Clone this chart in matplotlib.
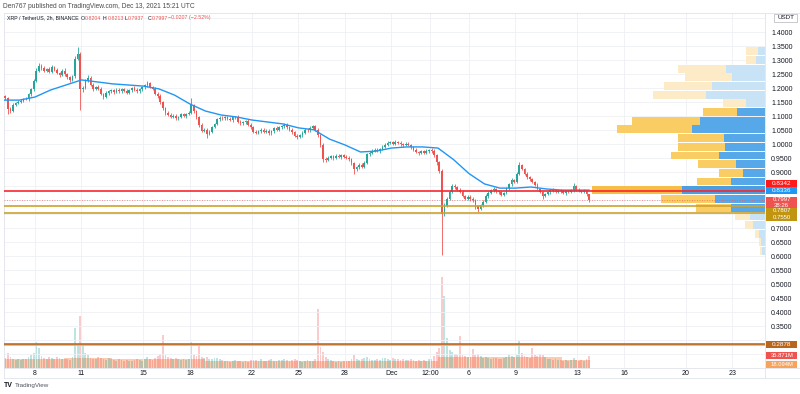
import numpy as np
import matplotlib.pyplot as plt
from matplotlib import transforms
from matplotlib.patches import Rectangle
from matplotlib.lines import Line2D

plt.rcParams['font.family'] = ['Liberation Sans', 'DejaVu Sans']

# XRP/USDT, one candle per 4h starting Nov 6 00:00 UTC (six per day)
first_open = 1.170
closes = [
    1.163, 1.125, 1.118, 1.140, 1.148, 1.150,   # Nov 6
    1.155, 1.162, 1.160, 1.178, 1.195, 1.225,   # Nov 7
    1.262, 1.280, 1.272, 1.262, 1.268, 1.258,   # Nov 8
    1.275, 1.266, 1.255, 1.248, 1.262, 1.250,   # Nov 9
    1.238, 1.228, 1.242, 1.305, 1.322, 1.195,   # Nov 10
    1.200, 1.228, 1.236, 1.212, 1.196, 1.205,   # Nov 11
    1.198, 1.180, 1.168, 1.182, 1.188, 1.192,   # Nov 12
    1.186, 1.194, 1.188, 1.196, 1.190, 1.184,   # Nov 13
    1.192, 1.200, 1.194, 1.188, 1.196, 1.203,   # Nov 14
    1.210, 1.218, 1.205, 1.198, 1.180, 1.172,   # Nov 15
    1.150, 1.128, 1.112, 1.105, 1.098, 1.102,   # Nov 16
    1.092, 1.098, 1.106, 1.100, 1.108, 1.112,   # Nov 17
    1.138, 1.118, 1.095, 1.070, 1.048, 1.052,   # Nov 18
    1.036, 1.045, 1.060, 1.072, 1.088, 1.094,   # Nov 19
    1.092, 1.096, 1.090, 1.086, 1.095, 1.098,   # Nov 20
    1.080, 1.074, 1.078, 1.082, 1.070, 1.060,   # Nov 21
    1.045, 1.040, 1.046, 1.052, 1.044, 1.048,   # Nov 22
    1.038, 1.046, 1.058, 1.052, 1.060, 1.064,   # Nov 23
    1.070, 1.060, 1.052, 1.042, 1.030, 1.026,   # Nov 24
    1.032, 1.040, 1.052, 1.050, 1.058, 1.064,   # Nov 25
    1.052, 1.032, 0.998, 0.948, 0.944, 0.952,   # Nov 26
    0.956, 0.950, 0.958, 0.954, 0.960, 0.955,   # Nov 27
    0.952, 0.946, 0.932, 0.910, 0.918, 0.926,   # Nov 28
    0.920, 0.934, 0.965, 0.970, 0.975, 0.980,   # Nov 29
    0.976, 0.982, 0.990, 0.998, 1.004, 1.006,   # Nov 30
    1.002, 1.008, 1.004, 1.000, 0.996, 1.002,   # Dec 1
    0.998, 0.988, 0.980, 0.972, 0.968, 0.974,   # Dec 2
    0.970, 0.976, 0.980, 0.975, 0.960, 0.935,   # Dec 3
    0.905, 0.752, 0.780, 0.805, 0.830, 0.852,   # Dec 4
    0.846, 0.838, 0.830, 0.815, 0.806, 0.812,   # Dec 5
    0.804, 0.800, 0.778, 0.770, 0.782, 0.795,   # Dec 6
    0.815, 0.826, 0.835, 0.840, 0.832, 0.828,   # Dec 7
    0.820, 0.825, 0.842, 0.858, 0.872, 0.866,   # Dec 8
    0.895, 0.925, 0.910, 0.895, 0.882, 0.875,   # Dec 9
    0.866, 0.855, 0.840, 0.830, 0.815, 0.822,   # Dec 10
    0.828, 0.836, 0.832, 0.830, 0.834, 0.831,   # Dec 11
    0.826, 0.832, 0.830, 0.836, 0.850, 0.838,   # Dec 12
    0.834, 0.830, 0.834, 0.8204, 0.7997,        # Dec 13
]
# wick above / below the body, in thousandths
wick_up = [
    6, 4, 8, 5, 4, 6,   5, 4, 6, 5, 7, 8,   10, 9, 6, 8, 5, 7,   6, 5, 7, 4, 6, 8,
    5, 6, 4, 10, 25, 8,   6, 5, 12, 6, 5, 4,   5, 6, 4, 7, 5, 6,   4, 6, 5, 5, 4, 6,
    5, 4, 6, 5, 6, 5,   6, 8, 5, 4, 6, 5,   6, 5, 4, 6, 5, 4,   5, 4, 6, 5, 4, 6,
    27, 6, 5, 4, 5, 6,   5, 4, 6, 5, 6, 7,   6, 4, 5, 6, 5, 4,   5, 6, 4, 5, 6, 4,
    5, 4, 6, 5, 4, 5,   6, 5, 4, 6, 5, 5,   6, 5, 4, 5, 4, 6,   5, 6, 4, 5, 6, 5,
    6, 5, 4, 6, 5, 4,   5, 4, 6, 5, 4, 5,   5, 4, 6, 5, 4, 6,   5, 6, 4, 5, 6, 5,
    5, 4, 6, 5, 6, 5,   6, 5, 4, 6, 5, 5,   5, 4, 6, 5, 4, 5,   6, 5, 4, 5, 6, 5,
    5, 8, 10, 6, 5, 6,   5, 4, 6, 5, 4, 6,   5, 6, 4, 5, 6, 5,   6, 5, 4, 6, 5, 4,
    5, 4, 6, 5, 6, 5,   6, 12, 5, 4, 5, 6,   5, 4, 6, 5, 4, 5,   5, 4, 6, 5, 4, 5,
    4, 5, 6, 5, 12, 5,   5, 4, 5, 1, 1,
]
wick_dn = [
    5, 18, 8, 5, 4, 6,   5, 6, 4, 5, 6, 4,   5, 6, 8, 5, 6, 5,   5, 6, 4, 7, 5, 6,
    6, 5, 4, 5, 6, 75,   8, 5, 6, 5, 6, 4,   5, 6, 7, 4, 5, 6,   6, 5, 4, 6, 5, 4,
    5, 6, 4, 5, 6, 5,   5, 6, 4, 5, 6, 7,   6, 8, 7, 5, 6, 4,   5, 6, 4, 5, 6, 4,
    5, 6, 7, 8, 6, 5,   15, 5, 6, 4, 5, 6,   5, 6, 4, 5, 6, 4,   5, 6, 4, 5, 6, 5,
    6, 5, 4, 6, 5, 4,   5, 6, 5, 4, 6, 5,   5, 6, 4, 5, 6, 7,   5, 6, 4, 5, 6, 5,
    5, 6, 8, 12, 6, 5,   5, 6, 4, 5, 6, 5,   5, 6, 7, 18, 6, 5,   6, 5, 4, 6, 5, 4,
    5, 6, 4, 5, 6, 5,   5, 6, 4, 5, 6, 4,   5, 6, 4, 5, 6, 5,   5, 4, 6, 5, 6, 8,
    8, 147, 10, 6, 5, 6,   5, 6, 4, 5, 6, 5,   6, 5, 8, 12, 6, 5,   5, 6, 4, 5, 6, 5,
    5, 6, 4, 5, 6, 5,   5, 6, 4, 5, 6, 5,   5, 6, 4, 5, 12, 5,   5, 6, 4, 5, 6, 5,
    5, 6, 4, 5, 6, 5,   5, 6, 4, 5, 6,
]
# volume per candle, millions
volume = [
    30, 45, 32, 28, 25, 27,   24, 26, 28, 33, 38, 45,   79, 60, 35, 30, 28, 32,
    30, 27, 34, 29, 26, 31,   28, 25, 33, 121, 70, 158,   70, 45, 38, 30, 28, 26,
    32, 29, 27, 25, 30, 28,   24, 22, 26, 23, 21, 25,   22, 20, 24, 26, 23, 21,
    28, 32, 26, 24, 30, 35,   42, 100, 38, 32, 29, 27,   30, 26, 24, 28, 25, 27,
    79, 40, 36, 66, 34, 30,   32, 28, 26, 29, 31, 27,   24, 22, 20, 19, 21, 23,
    22, 20, 18, 21, 19, 24,   25, 23, 21, 26, 22, 20,   24, 26, 22, 20, 23, 25,
    27, 24, 22, 25, 28, 23,   21, 19, 22, 24, 20, 22,   26, 179, 65, 48, 34, 28,
    24, 20, 18, 21, 19, 22,   20, 22, 26, 38, 28, 24,   26, 30, 34, 28, 25, 23,
    27, 25, 29, 31, 26, 24,   30, 28, 26, 24, 27, 25,   23, 26, 24, 22, 25, 21,
    24, 22, 26, 28, 35, 48,   60, 276, 218, 90, 55, 48,   42, 38, 97, 40, 36, 34,
    32, 57, 38, 42, 35, 30,   33, 30, 28, 31, 29, 27,   26, 29, 34, 38, 36, 32,
    40, 82, 45, 36, 33, 30,   60, 38, 35, 42, 40, 33,   28, 26, 24, 27, 25, 23,
    22, 25, 21, 24, 30, 23,   22, 24, 21, 26, 36,
]
assert len(closes) == len(wick_up) == len(wick_dn) == len(volume) == 227

# daily moving average (blue) and volume MA, one value per day from Nov 6
ma_price = [1.157, 1.157, 1.168, 1.193, 1.211, 1.229, 1.222, 1.215, 1.211, 1.207,
            1.197, 1.175, 1.143, 1.118, 1.104, 1.097, 1.086, 1.079, 1.072, 1.058,
            1.051, 1.018, 0.997, 0.972, 0.975, 0.986, 0.990, 0.990, 0.986, 0.945,
            0.895, 0.858, 0.843, 0.843, 0.847, 0.840, 0.836, 0.836]
vol_ma = [26, 27, 28, 28, 29, 30, 29, 28, 27, 27, 27, 26, 26, 21, 20, 20, 20, 21, 20,
          20, 21, 21, 20, 20, 20, 20, 20, 20, 33, 34, 33, 33, 33, 34, 33, 32, 23, 23]

tick_days = [2, 5, 9, 12, 16, 19, 22, 25, 27.5, 30, 33, 37, 40, 44, 47]
tick_text = ['8', '11', '15', '18', '22', '25', '28', 'Dec', '12:00', '6', '9', '13',
             '16', '20', '23']

# visible range volume profile: rows from the top price down
vp_top, vp_step = 1.3465, 0.031
vp_total = [19, 19, 87, 80, 101, 112, 42, 62, 133, 148, 87, 87, 94, 67, 46, 68, 173,
            104, 69, 30, 20, 10, 6, 5]
vp_up = [7, 9, 39, 33, 53, 59, 19, 28, 65, 73, 41, 40, 46, 29, 22, 34, 83, 50, 34,
         15, 12, 6, 4, 3]
vp_value_area = range(7, 19)
vp_poc = 16

red_level = 0.8342
gold_levels = [0.7807, 0.7550]
last_price = 0.7997
orange_level = 0.2878

W, H = 800, 394
fig = plt.figure(figsize=(W / 100, H / 100), dpi=100)
ax = fig.add_axes([4 / W, 1 - 368 / H, 761 / W, 355 / H])
axv = ax.twinx()
ax.set_zorder(2)
axv.set_zorder(1)
ax.patch.set_visible(False)

ybot, ytop = 0.2013, 1.4678
ax.set_ylim(ybot, ytop)
ax.set_xlim(0, 49.1)
ppp = (ytop - ybot) / 355  # price per pixel
vmax = 355 / 0.33
axv.set_ylim(0, vmax)

c = np.array(closes)
o = np.r_[first_open, c[:-1]]
hi = np.maximum(o, c) + np.array(wick_up) / 1000
lo = np.minimum(o, c) - np.array(wick_dn) / 1000
t = np.arange(len(c)) / 6 + 1 / 12
cols = np.where(c >= o, '#26a69a', '#ef5350')

# grid and axis labels (those hidden behind the price tags are left blank)
yt = np.round(np.arange(0.25, 1.46, 0.05), 2)
hidden = {0.25, 0.3, 0.75, 0.8, 0.85, 1.45}
ax.set_yticks(yt)
ax.set_yticklabels(['' if v in hidden else '{:.4f}'.format(v) for v in yt])
ax.set_xticks(tick_days)
ax.set_xticklabels(tick_text)
ax.grid(True, color='#eef0f4', lw=0.6)
ax.set_axisbelow(True)
ax.yaxis.tick_right()
ax.tick_params(axis='y', length=0, pad=4.3, labelsize=5, colors='#131722')
ax.tick_params(axis='x', length=0, pad=1.5, labelsize=5, colors='#131722')
for s in ax.spines.values():
    s.set_color('#e0e3eb')
    s.set_linewidth(0.6)
for s in axv.spines.values():
    s.set_visible(False)
axv.set_yticks([])

# volume
days = np.arange(len(vol_ma))
axv.fill_between(np.r_[days, t[-1] + 1 / 12], np.r_[vol_ma, vol_ma[-1]], step='post',
                 color='#fbc4a2', alpha=0.85, lw=0)
axv.bar(t, volume, width=0.12, color=cols, alpha=0.3, lw=0)

# candles and MA
ax.vlines(t, lo, hi, colors=cols, lw=0.6, zorder=3)
ax.bar(t, np.maximum(np.abs(c - o), 0.0015), bottom=np.minimum(o, c), width=0.11,
       color=cols, lw=0, zorder=3)
ax.plot(np.r_[days, t[-1]], np.r_[ma_price, ma_price[-1]], color='#2196f3', lw=1,
        zorder=4)

# volume profile on the right edge
blend = transforms.blended_transform_factory(ax.transAxes, ax.transData)
wmax = 173 / 761
for k, (tot, upv) in enumerate(zip(vp_total, vp_up)):
    y0 = vp_top - (k + 1) * vp_step + 0.002
    if k == vp_poc:
        cy, cb = '#f7bd45', '#4b9fe1'
    elif k in vp_value_area:
        cy, cb = '#facd64', '#56a8e8'
    else:
        cy, cb = '#fdebc8', '#c8e2f6'
    wt = tot / max(vp_total) * wmax
    wu = upv / max(vp_total) * wmax
    ax.add_patch(Rectangle((1 - wt, y0), wt, vp_step - 0.003, transform=blend,
                           color=cy, lw=0, zorder=2.5))
    ax.add_patch(Rectangle((1 - wu, y0), wu, vp_step - 0.003, transform=blend,
                           color=cb, lw=0, zorder=2.6))

# horizontal levels
ax.axhline(red_level, color='#f7282f', lw=1.2, zorder=5)
for g in gold_levels:
    ax.axhline(g, color='#cda22e', lw=1.2, zorder=5)
ax.axhline(last_price, color='#ef5350', lw=0.6, ls=(0, (1, 2)), alpha=0.8, zorder=5)
ax.axhline(orange_level - 1.2 * ppp, color='#f5b27d', lw=1.4, zorder=5)
ax.axhline(orange_level, color='#b0621c', lw=1.1, zorder=5)


def tag(axis, y, lines, color, shift_px=0.0, unit=ppp, size=4.6, row=7.0):
    tr = transforms.blended_transform_factory(ax.transAxes, axis.transData)
    h = row * len(lines) * unit
    yc = y + shift_px * unit
    ax.add_patch(Rectangle((1.0015, yc - h / 2), 0.0405, h, transform=tr,
                           color=color, lw=0, clip_on=False, zorder=10))
    for j, s in enumerate(lines):
        yl = yc + h / 2 - (j + 0.5) * row * unit
        ax.text(1.022, yl, s, transform=tr, ha='center', va='center',
                fontsize=size, color='white', zorder=11, clip_on=False)


tag(ax, red_level, ['0.8342'], '#ff1a1a', 7)
tag(ax, 0.8336, ['0.8336'], '#2196f3', 0)
tag(ax, last_price, ['0.7997', '38:26'], '#ef5350', -2.6, row=6.0, size=4.3)
tag(ax, gold_levels[0], ['0.7807'], '#c29511', -5.3, row=6.5, size=4.3)
tag(ax, gold_levels[1], ['0.7550'], '#c29511', -4.6, row=6.5, size=4.3)
tag(ax, orange_level, ['0.2878'], '#b8661c', -0.5)
vunit = vmax / 355
tag(axv, 36, ['35.871M'], '#ef5350', 0.8, vunit, 4.2)
tag(axv, 18, ['18.094M'], '#f7a35c', -2.2, vunit, 4.2)

# frame of the screenshot
fig.add_artist(Rectangle((765 / W, 0), 35 / W, 1 - 368.4 / H, transform=fig.transFigure,
                         color='white', lw=0, zorder=20))
for (x0, y0, x1, y1) in [(765, 13, 800, 13), (765, 368, 800, 368), (4, 378, 800, 378),
                         (4, 368, 4, 378), (765, 368, 765, 378)]:
    fig.add_artist(Line2D([x0 / W, x1 / W], [1 - y0 / H, 1 - y1 / H],
                          transform=fig.transFigure, color='#e0e3eb', lw=0.6, zorder=21))
fig.add_artist(Rectangle((774 / W, 1 - 22 / H), 23 / W, 8.5 / H, transform=fig.transFigure,
                         facecolor='white', edgecolor='#b2b5be', lw=0.5, zorder=12))
fig.text(785.5 / W, 1 - 17.8 / H, 'USDT', ha='center', va='center', fontsize=4.5,
         color='#131722', zorder=13)

# header
fig.text(3 / W, 1 - 6 / H, 'Den767 published on TradingView.com, Dec 13, 2021 15:21 UTC',
         fontsize=4.8, color='#4a4a4a', va='center')
red = '#ef5350'
dark = '#131722'
pieces = [(7, 'XRP / TetherUS, 2h, BINANCE', dark),
          (81, 'O', dark), (85, '0.8204', red),
          (103, 'H', dark), (107.5, '0.8213', red),
          (124.5, 'L', dark), (128, '0.7937', red),
          (147.5, 'C', dark), (151.5, '0.7997', red),
          (168, '\u22120.0207 (\u22122.52%)', red)]
for px_, s, col in pieces:
    fig.text(px_ / W, 1 - 18 / H, s, fontsize=3.8, color=col, va='center')

# footer logo
fig.text(4 / W, 1 - 385.5 / H, 'TV', fontsize=5, fontweight='bold', color='#131722',
         va='center')
fig.text(15 / W, 1 - 385.5 / H, 'TradingView', fontsize=4.5, color='#50535e', va='center')

fig.savefig('out.png', dpi=100)
